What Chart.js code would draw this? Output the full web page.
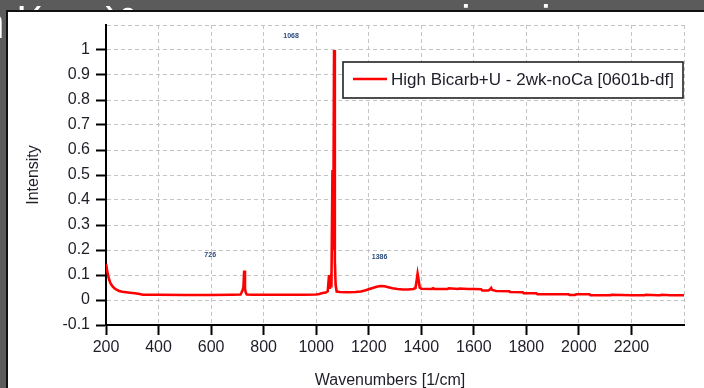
<!DOCTYPE html>
<html>
<head>
<meta charset="utf-8">
<title>Raman spectrum</title>
<script src="https://cdn.jsdelivr.net/npm/chart.js@4.4.1/dist/chart.umd.min.js"></script>
<style>
  html, body { margin: 0; padding: 0; background: #5b5b5b; }
  #spectrum { display: block; }
</style>
</head>
<body>
<canvas id="spectrum" width="704" height="388"></canvas>
<script>
// Spectrum (normalised intensity against wavenumber)
const wavenumbers = [
  200, 204, 208, 212, 216, 220, 226, 232, 240, 250, 262, 276, 292, 310, 328, 340,
  400, 500, 600, 680, 712, 716, 720, 723, 726, 729, 732, 736, 760, 850, 950,
  1000, 1012, 1024, 1036, 1044, 1049, 1052, 1055, 1058, 1062, 1065, 1068, 1071, 1074, 1078,
  1090, 1120, 1150, 1170, 1185, 1200, 1215, 1230, 1245, 1260, 1275, 1290, 1310, 1330, 1350,
  1370, 1378, 1382, 1386, 1390, 1394, 1400, 1440, 1445, 1450, 1500, 1505, 1540, 1545, 1580,
  1600, 1628, 1632, 1655, 1662, 1666, 1670, 1685, 1735, 1738, 1786, 1790, 1838, 1842, 1900,
  1960, 1965, 1985, 1990, 2040, 2044, 2100, 2120, 2125, 2200, 2250, 2255, 2300, 2310, 2315,
  2350, 2400
];
const intensity = [
  0.145, 0.12, 0.098, 0.082, 0.07, 0.062, 0.053, 0.047, 0.041, 0.036, 0.033, 0.031, 0.029, 0.027, 0.024, 0.021,
  0.021, 0.02, 0.02, 0.021, 0.022, 0.03, 0.04, 0.05, 0.118, 0.045, 0.03, 0.022, 0.021, 0.021, 0.021,
  0.022, 0.024, 0.028, 0.03, 0.035, 0.1, 0.045, 0.075, 0.05, 0.52, 0.2, 1.0, 0.155, 0.06, 0.034,
  0.032, 0.031, 0.032, 0.034, 0.038, 0.043, 0.048, 0.053, 0.056, 0.055, 0.051, 0.047, 0.044, 0.042, 0.042,
  0.044, 0.048, 0.075, 0.105, 0.08, 0.05, 0.045, 0.044, 0.047, 0.044, 0.044, 0.047, 0.044, 0.046, 0.044,
  0.044, 0.043, 0.038, 0.038, 0.042, 0.048, 0.04, 0.036, 0.035, 0.032, 0.031, 0.027, 0.027, 0.023, 0.023,
  0.023, 0.02, 0.02, 0.023, 0.023, 0.019, 0.019, 0.019, 0.021, 0.019, 0.019, 0.021, 0.019, 0.019, 0.021,
  0.019, 0.019
];

// Peaks that get a small label
const peakLabels = [726, 1068, 1386];

// Axis ticks
const xTicks = [200, 400, 600, 800, 1000, 1200, 1400, 1600, 1800, 2000, 2200];
const yTicks = [-0.1, 0, 0.1, 0.2, 0.3, 0.4, 0.5, 0.6, 0.7, 0.8, 0.9, 1];

const seriesName = 'High Bicarb+U - 2wk-noCa [0601b-df]';
const FONT = '"Liberation Sans", Arial, sans-serif';

// label offsets in px from the top of each peak
const peakLabelShift = { 726: [-34, -15], 1068: [-43, -14], 1386: [-38, -17] };

const points = wavenumbers.map((w, i) => ({ x: w, y: intensity[i] }));

// grey slide behind, white panel with dark edge
const backdrop = {
  id: 'backdrop',
  beforeDraw(chart) {
    const ctx = chart.ctx;
    ctx.save();
    ctx.fillStyle = '#5b5b5b';
    ctx.fillRect(0, 0, chart.width, chart.height);
    // slide heading, mostly hidden by the panel
    ctx.fillStyle = '#ffffff';
    ctx.font = '44px ' + FONT;
    ctx.textBaseline = 'alphabetic';
    ctx.fillText('n l(co\u2083)\u00b2', -20, 38);
    ctx.fillText('i', 461, 36);
    ctx.fillText('i', 541, 36);
    ctx.fillStyle = '#ffffff';
    ctx.fillRect(8, 12, chart.width - 8, chart.height - 12);
    ctx.strokeStyle = '#111111';
    ctx.lineWidth = 2;
    ctx.beginPath();
    ctx.moveTo(7, chart.height);
    ctx.lineTo(7, 11);
    ctx.lineTo(chart.width, 11);
    ctx.stroke();
    ctx.restore();
  }
};

// axis titles, legend box, peak labels
const decorations = {
  id: 'decorations',
  afterDraw(chart) {
    const ctx = chart.ctx;
    const xs = chart.scales.x, ys = chart.scales.y;
    ctx.save();

    ctx.fillStyle = '#1e1e28';
    ctx.font = '16px ' + FONT;
    ctx.textAlign = 'center';
    ctx.textBaseline = 'alphabetic';
    ctx.fillText('Wavenumbers [1/cm]', 390, 385);

    ctx.save();
    ctx.translate(34, 175);
    ctx.rotate(-Math.PI / 2);
    ctx.textBaseline = 'middle';
    ctx.fillText('Intensity', 0, 0);
    ctx.restore();

    // legend
    const ds = chart.data.datasets[0];
    ctx.fillStyle = '#ffffff';
    ctx.fillRect(343, 62, 340, 36);
    ctx.strokeStyle = '#222222';
    ctx.lineWidth = 1.6;
    ctx.strokeRect(343, 62, 340, 36);
    ctx.strokeStyle = ds.borderColor;
    ctx.lineWidth = 2.6;
    ctx.beginPath();
    ctx.moveTo(353, 79);
    ctx.lineTo(387, 79);
    ctx.stroke();
    ctx.fillStyle = '#1e1e28';
    ctx.font = '17px ' + FONT;
    ctx.textAlign = 'left';
    ctx.textBaseline = 'middle';
    ctx.fillText(ds.label, 391, 80);

    // peak labels
    ctx.fillStyle = '#2b4a7c';
    ctx.font = 'bold 7px ' + FONT;
    ctx.textAlign = 'center';
    peakLabels.forEach(p => {
      const top = intensity[wavenumbers.indexOf(p)];
      const [dx, dy] = peakLabelShift[p];
      ctx.fillText(String(p), xs.getPixelForValue(p) + dx, ys.getPixelForValue(top) + dy);
    });
    ctx.restore();
  }
};

const tickFont = { family: FONT, size: 16 };

new Chart(document.getElementById('spectrum'), {
  type: 'line',
  data: {
    datasets: [{
      label: seriesName,
      data: points,
      borderColor: '#ff0000',
      borderWidth: 2.6,
      pointRadius: 0,
      tension: 0,
      fill: false
    }]
  },
  options: {
    responsive: false,
    devicePixelRatio: 1,
    animation: false,
    layout: { padding: { top: 25, right: 20, left: 0, bottom: 0 } },
    plugins: { legend: { display: false }, tooltip: { enabled: false } },
    scales: {
      x: {
        type: 'linear',
        min: 200,
        max: 2400,
        afterFit: s => { s.height = 63; },
        ticks: {
          stepSize: 200,
          autoSkip: false,
          maxRotation: 0,
          padding: 3,
          color: '#1e1e28',
          font: tickFont,
          callback: v => xTicks.includes(v) ? String(v) : ''
        },
        grid: {
          color: '#c4c4c4',
          lineWidth: 1,
          tickLength: 10,
          tickWidth: 2,
          tickColor: c => (c.tick && xTicks.includes(c.tick.value)) ? '#000000' : 'rgba(0,0,0,0)'
        },
        border: { color: '#000000', width: 2, dash: [4, 3] }
      },
      y: {
        min: -0.1,
        max: 1.1,
        afterFit: s => { s.width = 106; },
        ticks: {
          stepSize: 0.1,
          padding: 6,
          color: '#1e1e28',
          font: tickFont,
          callback: v => {
            const r = Math.round(v * 10) / 10;
            return yTicks.includes(r) ? String(r) : '';
          }
        },
        grid: {
          color: '#c4c4c4',
          lineWidth: 1,
          tickLength: 10,
          tickWidth: 2,
          tickColor: c => (c.tick && yTicks.includes(Math.round(c.tick.value * 10) / 10)) ? '#000000' : 'rgba(0,0,0,0)'
        },
        border: { color: '#000000', width: 2, dash: [4, 3] }
      }
    }
  },
  plugins: [backdrop, decorations]
});
</script>
</body>
</html>
